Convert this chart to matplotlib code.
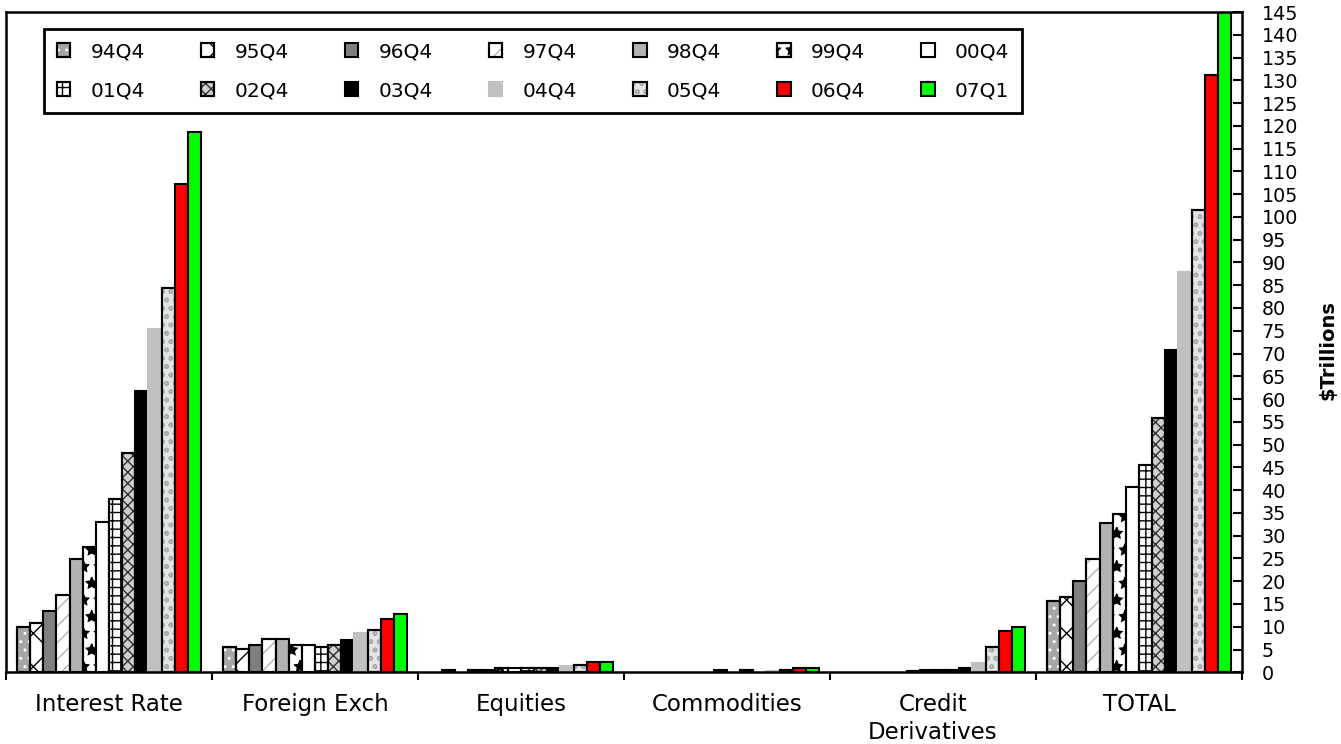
import matplotlib
matplotlib.use("Agg")
import matplotlib.pyplot as plt
import numpy as np
from matplotlib.legend_handler import HandlerTuple

plt.rcParams['font.family'] = ['DejaVu Sans']
plt.rcParams['hatch.linewidth'] = 1.0

categories = ['Interest Rate', 'Foreign Exch', 'Equities', 'Commodities',
              'Credit\nDerivatives', 'TOTAL']
quarters = ['94Q4', '95Q4', '96Q4', '97Q4', '98Q4', '99Q4', '00Q4',
            '01Q4', '02Q4', '03Q4', '04Q4', '05Q4', '06Q4', '07Q1']

# $ trillions, one value per quarter
interest_rate = [10.0, 10.9, 13.5, 16.9, 24.9, 27.5, 32.9, 38.1, 48.1, 61.8, 75.4, 84.5, 107.3, 118.6]
foreign_exch = [5.6, 5.1, 6.1, 7.3, 7.3, 6.1, 6.1, 5.6, 6.1, 7.0, 8.6, 9.2, 11.7, 12.7]
equities = [0, 0.4, 0, 0.5, 0.5, 0.9, 0.9, 0.9, 0.9, 0.9, 1.3, 1.5, 2.2, 2.2]
commodities = [0, 0, 0, 0, 0, 0, 0.4, 0, 0.4, 0, 0.2, 0.4, 0.9, 0.9]
credit_deriv = [0, 0, 0, 0, 0, 0.3, 0.4, 0.5, 0.5, 0.9, 2.1, 5.6, 9.0, 9.9]
total = [15.6, 16.6, 20.1, 24.9, 32.8, 34.7, 40.7, 45.5, 55.9, 70.8, 88.0, 101.5, 131.2, 145.0]

vals = np.array([interest_rate, foreign_exch, equities, commodities, credit_deriv, total])
vals = np.where(vals > 0, vals, np.nan)   # zero -> no bar drawn

# facecolor, edgecolor, hatch, hatch colour
styles = [
    ('#a6a6a6', 'black', '..', 'white'),
    ('white', 'black', 'x', 'black'),
    ('#7f7f7f', 'black', None, None),
    ('white', 'black', '//', '#b4b4b4'),
    ('#b2b2b2', 'black', None, None),
    ('white', 'black', '*', 'black'),
    ('white', 'black', None, None),
    ('white', 'black', '++', 'black'),
    ('#d0d0d0', 'black', 'xxx', '#303030'),
    ('black', 'black', None, None),
    ('#c0c0c0', '#c0c0c0', None, None),
    ('#e4e4e4', 'black', 'oo', '#a8a8a8'),
    ('#ff0000', 'black', None, None),
    ('#00ff00', 'black', None, None),
]

fig = plt.figure(figsize=(13.41, 7.44), dpi=100)
ax = fig.add_axes([6 / 1341, 1 - 672.3 / 744, 1236 / 1341, 660.3 / 744])

x = np.arange(len(categories))
nser = len(quarters)
w = 0.893 / nser

handles = []
for i in range(nser):
    fc, ec, h, hc = styles[i]
    xpos = x - 0.893 / 2 + w * (i + 0.5)
    b = ax.bar(xpos, vals[:, i], w, color=fc, edgecolor=ec, linewidth=1.5, zorder=2)
    if h:
        bh = ax.bar(xpos, vals[:, i], w, fill=False, hatch=h, edgecolor=hc,
                    linewidth=0, zorder=3)
        bo = ax.bar(xpos, vals[:, i], w, fill=False, edgecolor=ec, linewidth=1.5, zorder=4)
        handles.append((b, bh, bo))
    else:
        handles.append(b)

ax.set_xlim(-0.5, 5.5)
ax.set_ylim(0, 145)

# y axis on the right, inward ticks every 5
ax.yaxis.tick_right()
ax.set_yticks(np.arange(0, 146, 5))
ax.tick_params(axis='y', which='both', direction='in', length=6.5, width=1.5,
               labelsize=13.8, pad=14, left=False, right=True)

# x: tick marks at group boundaries, labels at group centres
ax.set_xticks(np.arange(-0.5, 5.6, 1.0))
ax.set_xticklabels([])
ax.set_xticks(x, minor=True)
ax.set_xticklabels(categories, minor=True, fontsize=16.5, linespacing=1.25)
ax.tick_params(axis='x', which='major', direction='out', length=6, width=1.5)
ax.tick_params(axis='x', which='minor', length=0, pad=15)

for s in ax.spines.values():
    s.set_linewidth(1.8)

fig.text(1328 / 1341, 0.53, r'\$Trillions', rotation=90, fontsize=14,
         fontweight='bold', ha='center', va='center')

# legend laid out row-wise (matplotlib fills by column)
order = []
for c in range(7):
    order += [c, c + 7]
leg = ax.legend([handles[k] for k in order], [quarters[k] for k in order],
                ncol=7, loc='upper left', bbox_to_anchor=(44 / 1341, 1 - 29 / 744),
                bbox_transform=fig.transFigure, borderaxespad=0,
                fontsize=14.5, handlelength=0.65, handleheight=0.65,
                handletextpad=1.0, columnspacing=2.8, labelspacing=1.0,
                borderpad=0.65, fancybox=False, framealpha=1,
                handler_map={tuple: HandlerTuple(ndivide=1, pad=0)})
leg.get_frame().set_edgecolor('black')
leg.get_frame().set_linewidth(2)

plt.savefig('out.png', dpi=100)
